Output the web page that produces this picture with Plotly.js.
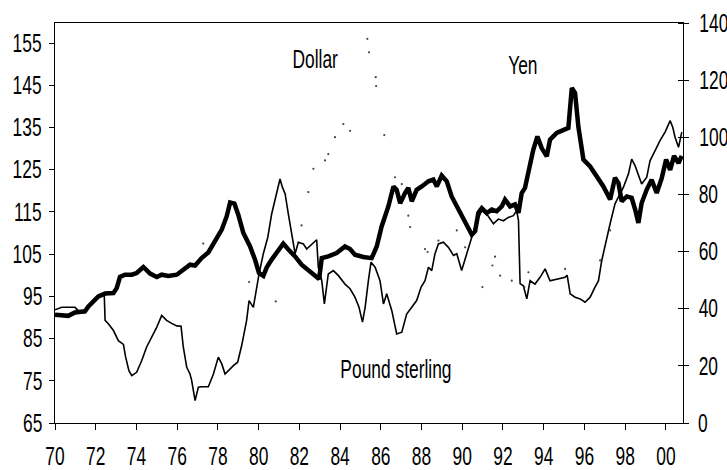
<!DOCTYPE html>
<html>
<head>
<meta charset="utf-8">
<script src="https://cdn.plot.ly/plotly-3.0.1.min.js"></script>
<style>html,body{margin:0;padding:0;background:#fff;}#chart{width:727px;height:470px;}</style>
</head>
<body>
<div id="chart"></div>
<script>
// Yen (thick line, right axis)
const yenYears = [1970.0,1970.65,1970.98,1971.47,1971.64,1971.88,1972.13,1972.46,1972.87,1973.03,1973.19,1973.44,1973.77,1974.01,1974.34,1974.67,1975.0,1975.24,1975.57,1975.98,1976.3,1976.63,1976.88,1977.2,1977.53,1977.86,1978.19,1978.43,1978.6,1978.81,1979.0,1979.25,1979.58,1979.82,1980.02,1980.23,1980.4,1980.64,1980.97,1981.21,1981.46,1981.79,1982.11,1982.44,1982.77,1982.97,1983.1,1983.42,1983.83,1984.24,1984.49,1984.73,1985.14,1985.55,1985.8,1986.04,1986.37,1986.62,1986.78,1986.95,1987.19,1987.35,1987.52,1987.76,1988.01,1988.34,1988.58,1988.75,1988.99,1989.24,1989.48,1989.81,1990.14,1990.47,1990.63,1990.79,1990.96,1991.2,1991.45,1991.69,1991.94,1992.1,1992.35,1992.59,1992.76,1992.92,1993.08,1993.25,1993.49,1993.69,1993.9,1994.15,1994.31,1994.64,1995.05,1995.21,1995.38,1995.54,1995.7,1995.95,1996.28,1996.6,1996.93,1997.26,1997.5,1997.67,1997.83,1998.08,1998.32,1998.49,1998.65,1998.81,1999.06,1999.3,1999.55,1999.8,2000.01,2000.21,2000.4,2000.62,2000.78];
const yenValues = [37.9,37.5,38.7,39.1,40.8,42.6,44.3,45.3,45.5,47.2,51.1,51.9,51.9,52.5,54.6,52.3,51.1,51.9,51.5,51.9,53.4,55.4,55.1,57.7,59.7,63.9,67.7,72.3,77.2,76.8,72.9,66.5,61.8,57.2,52.5,51.5,54.5,57.2,60.7,62.8,60.7,58.3,55.4,53.6,51.9,50.4,57.7,58.3,59.5,61.8,60.9,58.9,58.1,57.7,61.8,68.8,75.8,82.8,81.6,76.9,80.5,82.3,77.6,81.6,82.8,84.6,85.2,82.8,86.6,84.6,79.3,74.6,70.0,65.9,67.1,73.5,75.2,73.5,74.7,74.1,75.8,78.2,75.8,76.5,73.5,80.5,82.3,88.6,95.7,100.3,96.2,93.3,99.2,101.5,102.7,103.3,117.3,115.5,103.8,92.2,89.8,86.3,82.8,78.2,85.8,84.0,77.6,79.3,78.8,74.7,70.0,77.0,81.7,85.1,80.5,85.8,92.2,88.6,93.5,91.0,93.5];

// Pound sterling (thin line, left axis)
const poundYears = [1970.0,1970.33,1970.98,1971.23,1971.47,1971.64,1971.88,1972.13,1972.42,1972.46,1972.62,1972.87,1973.11,1973.36,1973.47,1973.63,1973.77,1974.01,1974.26,1974.5,1974.83,1975.0,1975.24,1975.48,1975.73,1975.98,1976.19,1976.3,1976.47,1976.63,1976.71,1976.88,1977.04,1977.2,1977.53,1977.78,1978.02,1978.19,1978.35,1978.51,1978.76,1978.97,1979.17,1979.41,1979.53,1979.74,1979.9,1980.02,1980.23,1980.45,1980.64,1980.89,1981.05,1981.17,1981.3,1981.46,1981.62,1981.79,1981.95,1982.2,1982.36,1982.61,1982.85,1982.93,1983.1,1983.23,1983.42,1983.67,1983.92,1984.24,1984.49,1984.73,1984.93,1985.1,1985.23,1985.39,1985.52,1985.72,1985.96,1986.13,1986.29,1986.54,1986.78,1987.03,1987.27,1987.52,1987.76,1987.98,1988.17,1988.34,1988.5,1988.66,1988.83,1989.07,1989.32,1989.57,1989.73,1989.97,1990.22,1990.46,1990.71,1990.96,1991.2,1991.53,1991.77,1992.02,1992.26,1992.51,1992.67,1992.76,1992.84,1993.0,1993.17,1993.33,1993.57,1993.82,1994.07,1994.31,1994.64,1995.05,1995.15,1995.3,1995.54,1995.79,1996.03,1996.28,1996.52,1996.69,1996.85,1997.1,1997.26,1997.5,1997.67,1997.91,1998.16,1998.32,1998.49,1998.65,1998.81,1999.06,1999.22,1999.47,1999.71,1999.96,2000.21,2000.34,2000.45,2000.62,2000.78];
const poundValues = [91.8,92.4,92.4,91.2,91.2,92.4,93.6,94.9,95.2,89.3,88.5,86.9,84.5,83.6,80.6,77.4,76.2,77.0,79.8,83.0,86.1,87.7,90.5,89.3,88.6,88.0,87.9,83.0,78.2,76.6,75.1,70.3,73.5,73.6,73.6,76.6,80.6,79.0,76.6,77.4,78.6,79.4,83.4,89.3,94.0,92.4,97.2,100.3,105.1,109.0,114.5,119.3,122.8,120.8,119.3,114.5,109.8,105.1,107.8,107.4,106.2,107.4,108.4,101.9,98.7,93.2,100.3,101.1,99.9,97.9,96.8,94.8,92.4,88.9,92.4,98.7,103.1,101.9,98.7,93.2,95.6,91.6,86.1,86.5,90.8,92.4,94.0,97.2,98.7,101.9,101.1,105.1,107.4,107.8,106.6,104.7,105.1,101.1,105.1,109.0,112.9,115.3,114.5,112.2,113.3,112.9,113.7,114.1,115.3,113.0,98.0,97.5,94.4,98.7,97.9,99.5,101.5,98.7,99.1,99.5,100.0,95.6,94.8,94.4,93.6,94.8,97.2,98.7,103.5,109.0,112.2,116.9,118.5,120.8,124.0,127.5,125.9,123.6,121.6,123.2,127.1,129.5,131.9,133.9,136.6,135.0,132.7,130.3,133.9];

// Dollar (faint dotted remnants, left axis)
const dollarYears = [1977.28,1979.53,1980.84,1982.11,1982.44,1982.69,1983.26,1983.42,1983.75,1984.16,1984.49,1985.34,1985.42,1985.75,1985.77,1986.17,1986.7,1987.03,1987.35,1987.44,1988.17,1988.3,1988.83,1989.73,1990.14,1990.99,1991.48,1991.61,1991.86,1992.43,1993.05,1993.25,1995.05,1996.77,1997.26];
const dollarValues = [107.5,98.4,93.8,111.8,119.7,125.2,127.2,128.7,132.7,135.8,134.2,156.0,152.8,146.9,144.8,133.2,123.2,121.6,114.1,111.4,106.2,105.5,108.2,110.6,106.6,97.2,102.3,104.4,99.9,98.7,97.2,100.7,101.5,103.5,110.6];

const leftTicks = [65,75,85,95,105,115,125,135,145,155];
const rightTicks = [0,20,40,60,80,100,120,140];
const xTickVals = [1970,1972,1974,1976,1978,1980,1982,1984,1986,1988,1990,1992,1994,1996,1998,2000];
const xTickText = ['70','72','74','76','78','80','82','84','86','88','90','92','94','96','98','00'];

const labels = [
  {text:'Dollar', x:1982.77, y:151.3},
  {text:'Yen', x:1992.99, y:149.7},
  {text:'Pound sterling', x:1986.75, y:77.9}
];

const FONT = 'Liberation Sans, Arial, sans-serif';
const FS = 20;

const traces = [
  {x: poundYears, y: poundValues, mode:'lines', yaxis:'y', line:{color:'#000', width:1.6}, hoverinfo:'skip', name:'Pound sterling'},
  {x: yenYears, y: yenValues, mode:'lines', yaxis:'y2', line:{color:'#000', width:4.5}, hoverinfo:'skip', name:'Yen'},
  {x: dollarYears, y: dollarValues, mode:'markers', yaxis:'y', marker:{color:'#444', size:2.2}, hoverinfo:'skip', name:'Dollar'}
];

const layout = {
  width:727, height:470,
  margin:{l:55, r:44, t:23, b:47, pad:0},
  paper_bgcolor:'#fff', plot_bgcolor:'#fff',
  showlegend:false,
  font:{family:FONT, size:FS, color:'#000'},
  xaxis:{
    range:[1970, 2000.84], tickmode:'array', tickvals:xTickVals, ticktext:xTickText,
    showgrid:false, zeroline:false, showline:true, linecolor:'#000', linewidth:1.2, mirror:true,
    ticks:'outside', ticklen:6, tickcolor:'#000', tickwidth:1, ticklabelstandoff:9,
    tickfont:{family:FONT, size:FS, color:'#000'}
  },
  yaxis:{
    range:[65, 159.74], tickmode:'array', tickvals:leftTicks,
    showgrid:false, zeroline:false, showline:true, linecolor:'#000', linewidth:1.2,
    ticks:'outside', ticklen:5, tickcolor:'#000', tickwidth:1, ticklabelstandoff:1,
    tickfont:{family:FONT, size:FS, color:'#000'}
  },
  yaxis2:{
    range:[0, 140], overlaying:'y', side:'right', tickmode:'array', tickvals:rightTicks,
    showgrid:false, zeroline:false, showline:true, linecolor:'#000', linewidth:1.2,
    ticks:'outside', ticklen:5, tickcolor:'#000', tickwidth:1, ticklabelstandoff:4,
    minor:{tickmode:'array', tickvals:rightTicks, ticks:'inside', ticklen:5, tickcolor:'#000', tickwidth:1, showgrid:false},
    tickfont:{family:FONT, size:FS, color:'#000'}
  },
  annotations: labels.map(l => ({text:l.text, x:l.x, y:l.y, xref:'x', yref:'y', showarrow:false,
    font:{family:FONT, size:FS, color:'#000'}, xanchor:'center', yanchor:'middle'}))
};

// narrow, tall lettering like the scanned original
function condenseText(gd) {
  const SX = 0.87, SY = 1.25;
  const nodes = gd.querySelectorAll('.xtick text, .ytick text, .y2tick text, text.annotation-text');
  nodes.forEach(t => {
    const b = t.getBBox();
    const cx = b.x + b.width / 2, cy = b.y + b.height / 2;
    const prev = t.getAttribute('transform') || '';
    t.setAttribute('transform', prev + ` translate(${cx},${cy}) scale(${SX},${SY}) translate(${-cx},${-cy})`);
  });
}

Plotly.newPlot('chart', traces, layout, {staticPlot:true, displayModeBar:false}).then(gd => condenseText(gd));
</script>
</body>
</html>
